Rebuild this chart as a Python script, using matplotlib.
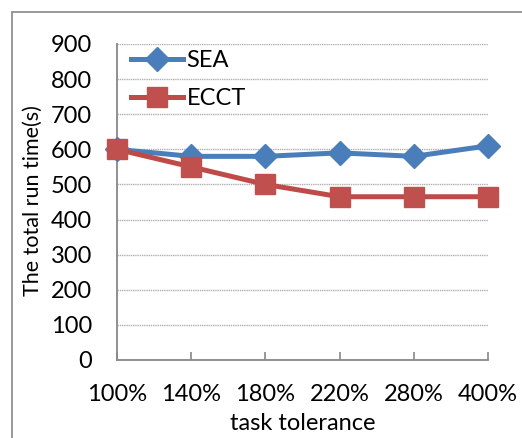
import matplotlib
matplotlib.use("Agg")
import matplotlib.pyplot as plt
from matplotlib.patches import Rectangle

categories = ["100%", "140%", "180%", "220%", "280%", "400%"]
sea = [600, 580, 580, 590, 580, 610]
ecct = [600, 550, 500, 465, 465, 465]
yticks = [0, 100, 200, 300, 400, 500, 600, 700, 800, 900]

plt.rcParams["font.family"] = ["Lato", "DejaVu Sans"]
fs = 17

fig = plt.figure(figsize=(5.22, 4.38), dpi=100)
ax = fig.add_axes([117 / 522, 1 - 360 / 438, (488 - 117) / 522, (360 - 44) / 438])

x = list(range(len(categories)))
ax.plot(x, sea, color="#4a7ebb", lw=3.6, marker="D", ms=12,
        markerfacecolor="#4a7ebb", markeredgecolor="#4a7ebb", label="SEA", clip_on=False, zorder=3)
ax.plot(x, ecct, color="#be4b48", lw=3.6, marker="s", ms=15,
        markerfacecolor="#c0504d", markeredgecolor="#c0504d", label="ECCT", clip_on=False, zorder=4)

ax.set_xlim(0, len(categories) - 1)
ax.set_ylim(0, 900)
ax.set_yticks(yticks)
ax.set_xticks(x)
ax.set_xticklabels(categories)
ax.tick_params(axis="y", length=0, labelsize=fs, pad=18)
ax.tick_params(axis="x", direction="in", length=6, width=1.2, color="#888888",
               pad=17, labelsize=fs)
ax.grid(axis="y", color="#b0b0b0", lw=1, ls=(0, (1, 0.6)))
ax.set_axisbelow(True)
for side in ["top", "right"]:
    ax.spines[side].set_visible(False)
for side in ["left", "bottom"]:
    ax.spines[side].set_color("#888888")
    ax.spines[side].set_linewidth(1.3)

ax.set_ylabel("The total run time(s)", fontsize=15.5, va="center")
ax.yaxis.set_label_coords(-(117 - 33) / 371, (360 - 201) / 316)
ax.set_xlabel("task tolerance", fontsize=fs, va="center")
ax.xaxis.set_label_coords(0.5, -(423 - 360) / 316)

ax.legend(loc="upper left", bbox_to_anchor=(0.0, 1.025), frameon=False,
          fontsize=fs, handlelength=2.2, handletextpad=0.15, labelspacing=0.7,
          borderaxespad=0.2)

fig.patches.append(Rectangle((12 / 522, -0.1), 1.2, 1 - 12 / 438 + 0.1,
                             transform=fig.transFigure, fill=False,
                             edgecolor="#888888", lw=1.2))

fig.savefig("out.png", dpi=100)
